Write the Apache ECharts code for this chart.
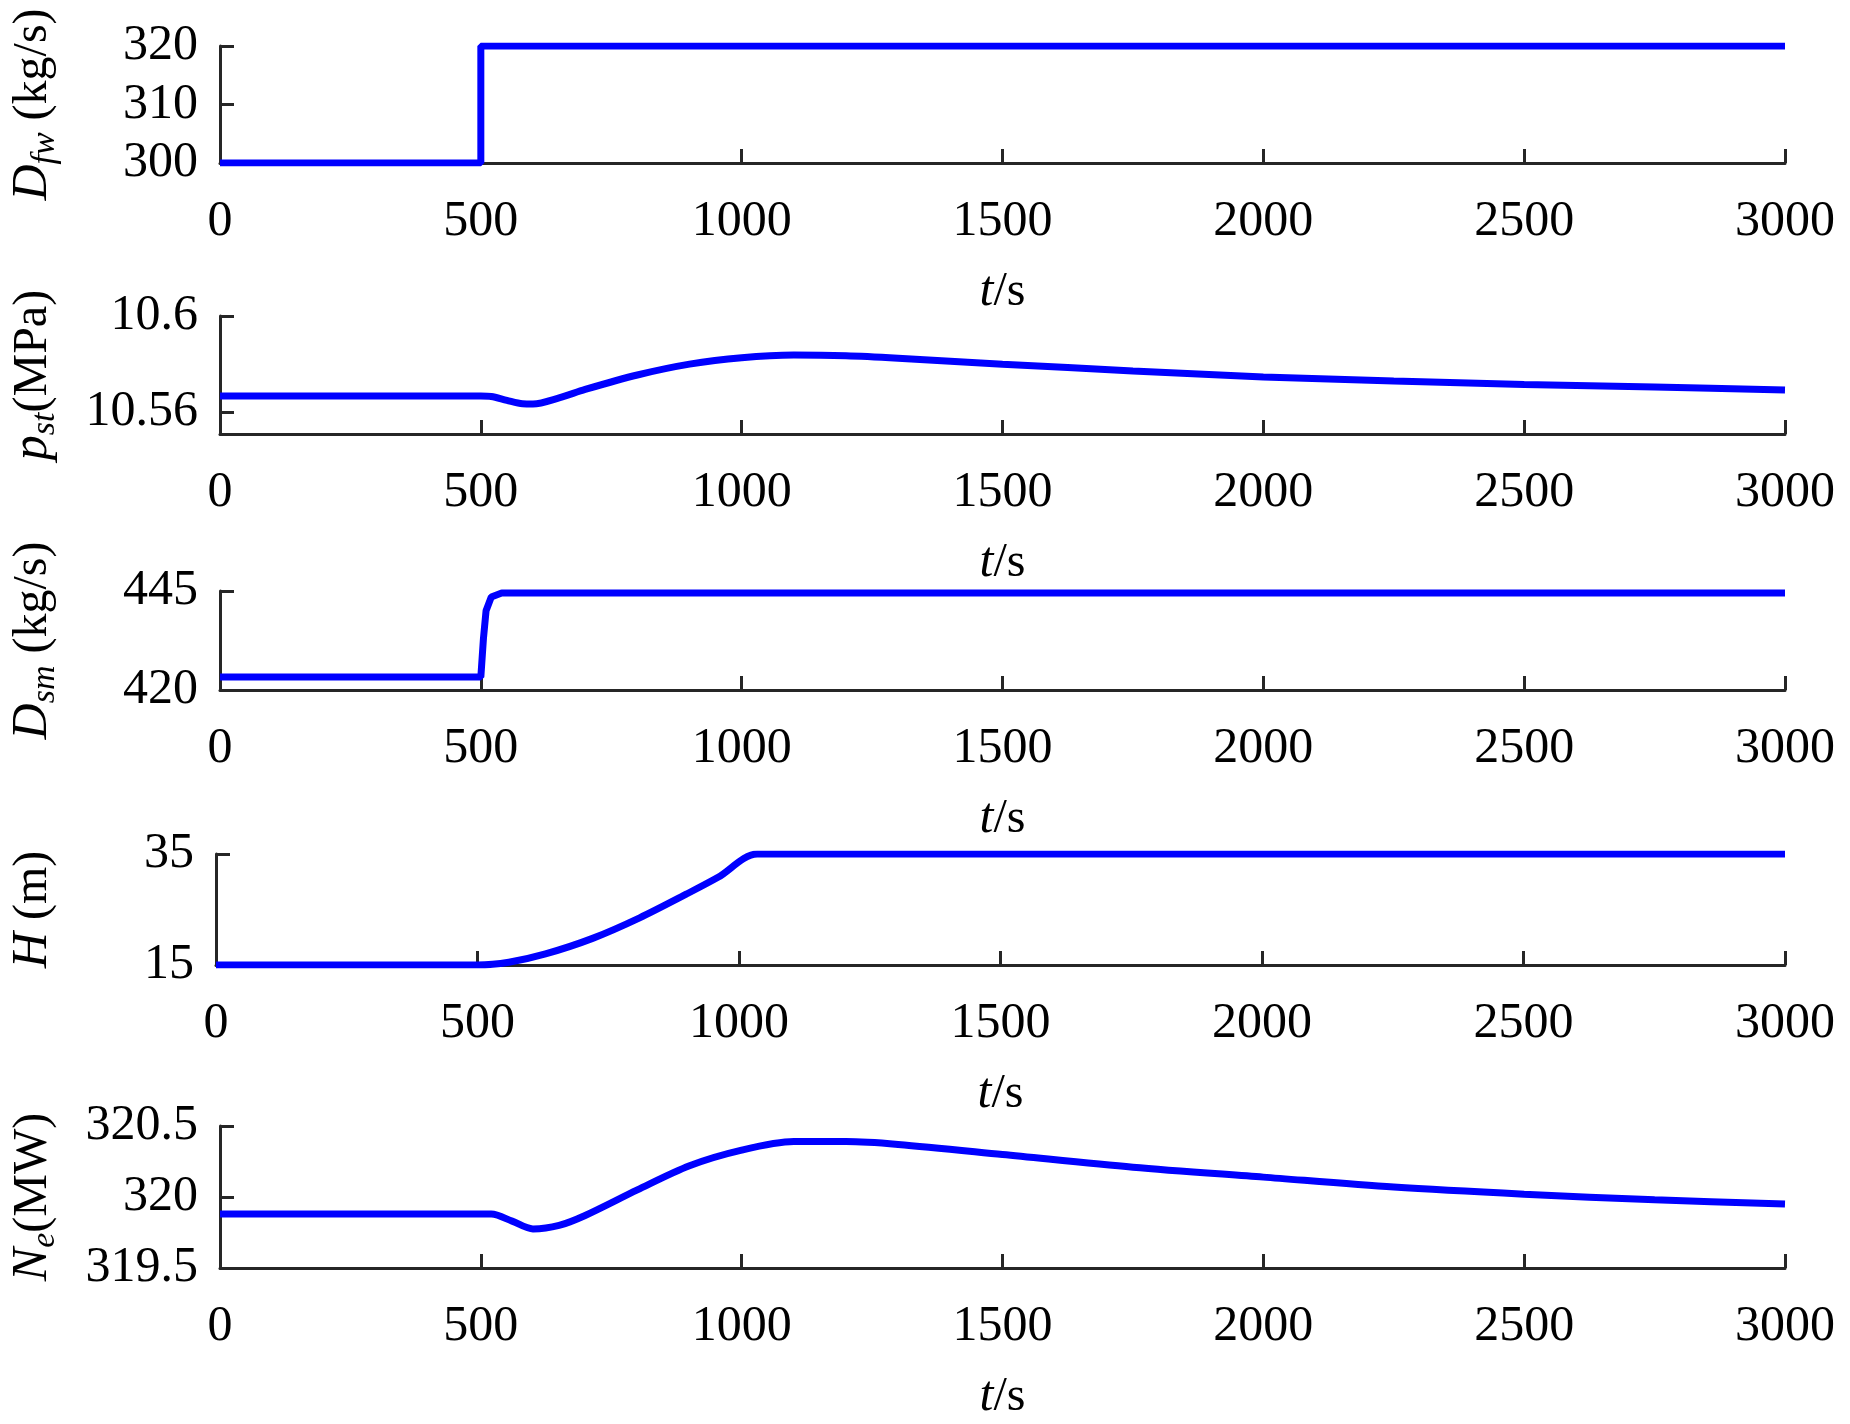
<!DOCTYPE html>
<html><head><meta charset="utf-8">
<script src="https://cdn.jsdelivr.net/npm/echarts@6/dist/echarts.min.js"></script>
<style>html,body{margin:0;background:#fff}#c{width:1850px;height:1424px}</style></head>
<body><div id="c"></div>
<script>
const dfwT=[0,500,500,3000], dfwV=[300,300,320,320];
const pT=[0,500,520,550,580,600,650,700,800,900,1000,1100,1200,1300,1500,1750,2000,2250,2500,2750,3000];
const pV=[10.5668,10.5668,10.5666,10.5650,10.5636,10.5635,10.5660,10.5695,10.5755,10.5800,10.5827,10.5838,10.5835,10.5825,10.5800,10.5772,10.5747,10.5730,10.5716,10.5705,10.5693];
const dsmT=[0,500,505,510,520,540,3000];
const dsmV=[423.3,423.3,433,440,443.5,444.5,444.5];
const hT=[0,500,560,630,720,810,900,960,1035,3000];
const hV=[15,15,15.5,17,19.8,23.5,27.8,30.8,35,35];
const nT=[0,520,560,600,650,700,800,900,1000,1100,1200,1300,1500,1750,2000,2250,2500,2750,3000];
const nV=[319.88,319.88,319.83,319.775,319.80,319.87,320.05,320.22,320.33,320.39,320.39,320.37,320.30,320.21,320.14,320.07,320.02,319.98,319.95];
const xTicks=[0,500,1000,1500,2000,2500,3000];

const F='Liberation Serif';
const panels=[
 {t:dfwT,v:dfwV,top:46,h:117,min:300,max:320,ticks:[300,310,320],name:'{i|D}{s|fw}{n| (kg/s)}'},
 {t:pT,v:pV,top:316,h:118,min:10.551,max:10.6,ticks:[10.56,10.58,10.6],name:'{i|p}{s|st}{n|(MPa)}'},
 {t:dsmT,v:dsmV,top:591,h:99,min:420,max:445,ticks:[420,430,445],name:'{i|D}{s|sm}{n| (kg/s)}'},
 {t:hT,v:hV,top:854,h:111,min:15,max:35,ticks:[15,35],name:'{i|H}{n| (m)}'},
 {t:nT,v:nV,top:1126,h:142,min:319.5,max:320.5,ticks:[319.5,320,320.5],name:'{i|N}{s|e}{n|(MW)}'}
];
const rich={i:{fontFamily:F,fontStyle:'italic',fontSize:50,color:'#000'},
 s:{fontFamily:F,fontStyle:'italic',fontSize:34,color:'#000',padding:[24,0,0,0]},
 n:{fontFamily:F,fontSize:48,color:'#000'}};
const axLine={show:true,lineStyle:{color:'#262626',width:3}};
const opt={animation:false,grid:[],xAxis:[],yAxis:[],series:[]};
panels.forEach((p,k)=>{
 opt.grid.push({left:212,right:65,top:p.top,height:p.h});
 opt.xAxis.push({type:'value',gridIndex:k,min:0,max:3000,
  axisLine:axLine,splitLine:{show:false},
  axisTick:{inside:true,length:14,lineStyle:{color:'#262626',width:3},customValues:xTicks},
  axisLabel:{fontFamily:F,fontSize:50,color:'#000',margin:34,customValues:xTicks,formatter:v=>String(v),hideOverlap:false},
  name:'{i|t}{n|/s}',nameLocation:'middle',nameGap:104,nameTextStyle:{rich}});
 opt.yAxis.push({type:'value',gridIndex:k,min:p.min,max:p.max,
  axisLine:axLine,splitLine:{show:false},
  axisTick:{inside:true,length:14,lineStyle:{color:'#262626',width:3},customValues:p.ticks},
  axisLabel:{fontFamily:F,fontSize:50,color:'#000',margin:22,customValues:p.ticks,formatter:v=>String(v),hideOverlap:false,showMinLabel:true,showMaxLabel:true},
  name:p.name,nameLocation:'middle',nameRotate:90,nameGap:158,nameTextStyle:{rich}});
 opt.series.push({type:'line',xAxisIndex:k,yAxisIndex:k,showSymbol:false,smooth:k===1||k===4||k===3?0.3:false,
  lineStyle:{color:'#0000ff',width:7},data:p.t.map((t,j)=>[t,p.v[j]])});
});
echarts.init(document.getElementById('c')).setOption(opt);
</script></body></html>
